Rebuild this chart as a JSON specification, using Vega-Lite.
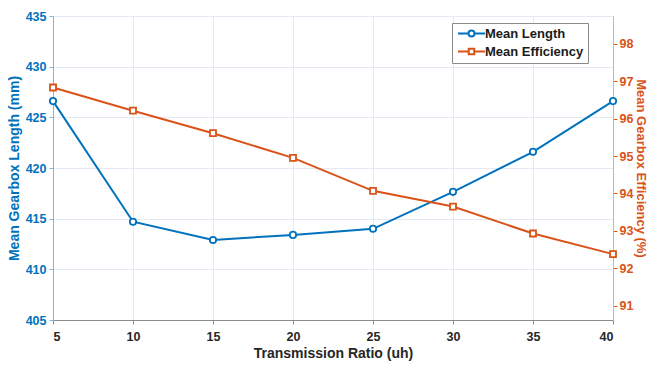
{
  "$schema": "https://vega.github.io/schema/vega-lite/v6.json",
  "width": 560,
  "height": 304,
  "autosize": "none",
  "padding": {"left": 53, "top": 16, "right": 37, "bottom": 45},
  "config": {
    "font": "Liberation Sans",
    "view": {"stroke": "#9a9a9a", "strokeWidth": 1},
    "axis": {"labelFont": "Liberation Sans", "titleFont": "Liberation Sans", "labelFontWeight": "bold", "titleFontWeight": "bold", "labelFontSize": 12.5, "titleFontSize": 14, "gridColor": "#e3eaf4", "gridWidth": 1}
  },
  "data": {
    "values": [
      {"ratio": 5, "length": 426.6, "efficiency": 96.83},
      {"ratio": 10, "length": 414.7, "efficiency": 96.21},
      {"ratio": 15, "length": 412.9, "efficiency": 95.61},
      {"ratio": 20, "length": 413.4, "efficiency": 94.95},
      {"ratio": 25, "length": 414.0, "efficiency": 94.07},
      {"ratio": 30, "length": 417.65, "efficiency": 93.65},
      {"ratio": 35, "length": 421.6, "efficiency": 92.93},
      {"ratio": 40, "length": 426.6, "efficiency": 92.38}
    ]
  },
  "encoding": {
    "x": {
      "field": "ratio", "type": "quantitative",
      "scale": {"domain": [5, 40], "nice": false, "zero": false},
      "axis": {"values": [5, 10, 15, 20, 25, 30, 35, 40], "title": "Transmission Ratio (uh)", "titleColor": "#262626", "labelColor": "#262626", "domainColor": "#8a8a8a", "tickColor": "#8a8a8a", "tickSize": 4, "labelPadding": 6, "titlePadding": 4, "grid": true}
    }
  },
  "layer": [
    {
      "mark": {"type": "line", "strokeWidth": 2, "point": {"shape": "circle", "filled": false, "fill": "white", "size": 40, "strokeWidth": 1.8}},
      "encoding": {
        "y": {
          "field": "length", "type": "quantitative",
          "scale": {"domain": [405, 435], "nice": false, "zero": false},
          "axis": {"orient": "left", "values": [405, 410, 415, 420, 425, 430, 435], "title": "Mean Gearbox Length (mm)", "titleColor": "#0072BD", "labelColor": "#0072BD", "domainColor": "#7fb5e0", "tickColor": "#7fb5e0", "tickSize": 4, "labelPadding": 3, "titlePadding": 4, "grid": true}
        },
        "color": {
          "datum": "Mean Length",
          "scale": {"domain": ["Mean Length", "Mean Efficiency"], "range": ["#0072BD", "#D95319"]},
          "legend": {
            "title": null,
            "orient": "none",
            "legendX": 399,
            "legendY": 7,
            "fillColor": "white",
            "strokeColor": "#8a8a8a",
            "padding": 4,
            "symbolSize": 100,
            "symbolOffset": 9,
            "labelOffset": 7,
            "symbolStrokeWidth": 2,
            "rowPadding": 3,
            "labelFont": "Liberation Sans",
            "labelFontWeight": "bold",
            "labelFontSize": 13,
            "labelColor": "#1a1a1a",
            "encode": {
              "symbols": {
                "update": {
                  "shape": {"signal": "datum.value === 'Mean Length' ? 'M-2.7,0H-0.6M0.6,0H2.7M-0.6,0A0.6,0.6 0 1,1 0.6,0A0.6,0.6 0 1,1 -0.6,0' : 'M-2.7,0H-0.55M0.55,0H2.7M-0.55,-0.55H0.55V0.55H-0.55Z'"}
                }
              }
            }
          }
        }
      }
    },
    {
      "mark": {"type": "line", "strokeWidth": 2, "point": {"shape": "square", "filled": false, "fill": "white", "size": 36, "strokeWidth": 1.8}},
      "encoding": {
        "y": {
          "field": "efficiency", "type": "quantitative",
          "scale": {"domain": [90.62, 98.74], "nice": false, "zero": false},
          "axis": {"orient": "right", "values": [91, 92, 93, 94, 95, 96, 97, 98], "title": "Mean Gearbox Efficiency (%)", "titleColor": "#D95319", "labelColor": "#D95319", "domainColor": "#f0a986", "tickColor": "#D95319", "tickSize": 4, "labelPadding": 2, "titlePadding": 1, "titleFontSize": 13, "grid": false}
        },
        "color": {"datum": "Mean Efficiency"}
      }
    }
  ],
  "resolve": {"scale": {"y": "independent"}}
}
